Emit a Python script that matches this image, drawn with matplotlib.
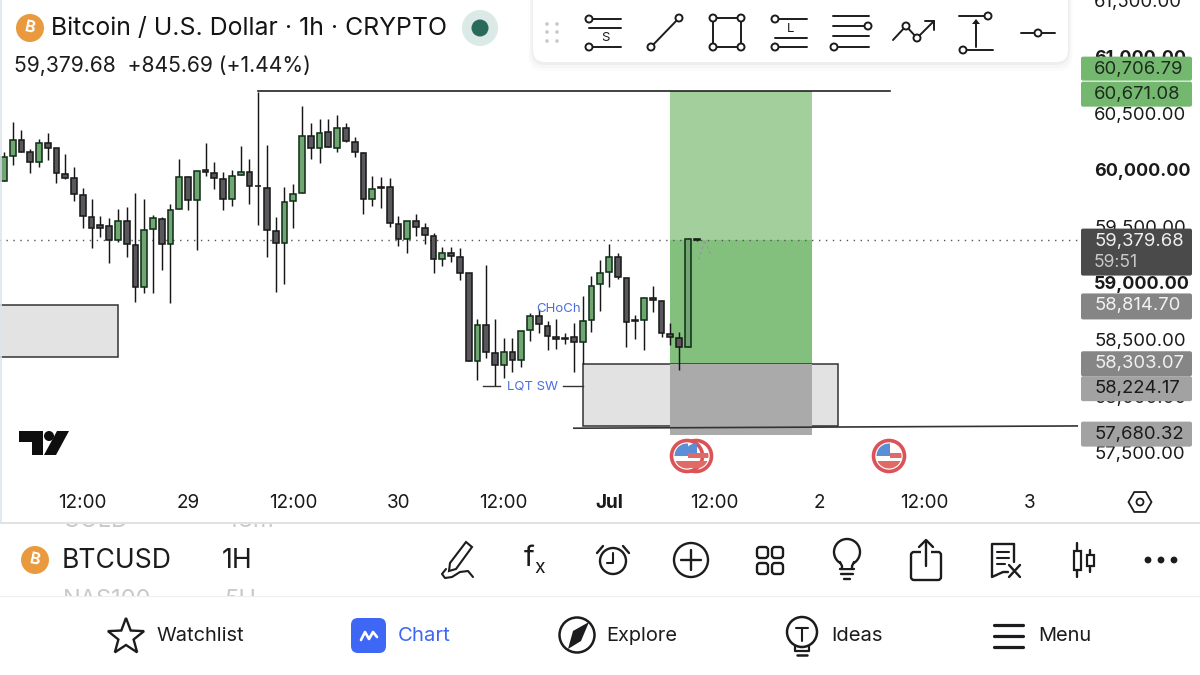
import numpy as np
import matplotlib
matplotlib.use('Agg')
import matplotlib.pyplot as plt
from matplotlib.patches import Rectangle, Circle, FancyBboxPatch, Polygon, RegularPolygon

plt.rcParams['font.family'] = ['Inter', 'DejaVu Sans']

# hourly candles, hour 0 = 29 Jun 00:00
hours = np.arange(-21, 59)
opens = np.array([59906,60121,60268,60159,60068,60236,60192,59965,59926,59782,59587,59510,59507,59383,59552,59336,58968,59478,59566,59342,
                  59655,59941,59732,59997,59970,59923,59740,59956,59985,59861,59844,59460,59357,59723,59794,60301,60192,60333,60198,60375,
                  60250,60153,59740,59852,59846,59522,59389,59545,59489,59415,59212,59265,59230,59085,58306,58628,58383,58274,58386,58318,
                  58581,58707,58622,58525,58513,58519,58474,58669,58988,59097,59230,59047,58669,58669,58864,58840,58551,58510,58433,59392])
highs = np.array([60162,60428,60354,60183,60271,60324,60192,60142,60024,59844,59743,59593,59572,59652,59670,59793,59743,59599,59587,59699,
                  60097,59947,59994,60236,60071,59982,60000,60212,60094,60690,60224,59587,59847,59876,60566,60419,60448,60448,60484,60419,
                  60295,60162,59949,59940,59926,59592,59548,59610,59528,59445,59315,59315,59306,59085,58678,59159,58678,58510,58510,58575,
                  58731,58766,58663,58681,58560,58643,58884,59061,59203,59345,59268,59047,58719,58878,58976,58840,58648,58569,59398,59392])
lows = np.array([59906,60044,60159,59970,60024,60088,59888,59917,59726,59490,59307,59404,59180,59366,59233,58832,58914,58908,59115,58820,
                 59655,59646,59292,59950,59832,59646,59684,59956,59702,59513,59233,58920,58994,59484,59794,60094,60059,60201,60162,60251,
                 60112,59610,59681,59660,59498,59330,59262,59415,59345,59091,59153,59188,59026,58306,58141,58333,58088,58159,58215,58253,
                 58489,58554,58407,58412,58460,58215,58283,58569,58752,58967,59032,58436,58501,58407,58743,58525,58451,58230,58433,59370])
closes = np.array([60118,60268,60159,60068,60236,60198,59970,59932,59788,59590,59484,59484,59383,59552,59342,58968,59469,59572,59342,59649,
                   59941,59732,59994,59979,59926,59740,59950,59985,59861,59855,59466,59354,59714,59788,60301,60192,60330,60201,60375,60257,
                   60156,59740,59834,59843,59530,59389,59548,59495,59424,59209,59268,59235,59091,58306,58625,58389,58274,58386,58318,58575,
                   58710,58634,58533,58504,58501,58474,58660,58976,59091,59230,59055,58654,58660,58864,58846,58557,58519,58433,59392,59379.68])

price_ticks = [61500, 61000, 60500, 60000, 59500, 59000, 58500, 58000, 57500]
bold_ticks = [61000, 60000, 59000]
time_ticks = [-12, 0, 12, 24, 36, 48, 60, 72, 84, 96]
time_labels = ['12:00', '29', '12:00', '30', '12:00', 'Jul', '12:00', '2', '12:00', '3']

last_price = 59379.68
target_price = 60700
entry_price = 58285
stop_price = 57655
box_right = (58285, 57735)
box_left = (58805, 58345)

label_prices = [60706.79, 60671.08, 59379.68, 58814.70, 58303.07, 58224.17, 57680.32]
label_fills = ['#74b86f', '#74b86f', '#4a4a4a', '#858585', '#868686', '#a2a2a2', '#a2a2a2']
label_text_colors = ['#1c2b1c', '#1c2b1c', '#f0f0f0', '#f2f2f2', '#f2f2f2', '#1a1a1a', '#1a1a1a']

fig = plt.figure(figsize=(12, 6.75), dpi=100)
ax = fig.add_axes([0, 0, 1, 1], zorder=1)
ax.set_xlim(-21.44, 115.4)
ax.set_ylim(55531, 61504.4)
for s in ax.spines.values():
    s.set_visible(False)
ax.yaxis.tick_right()
ax.set_yticks(price_ticks)
ax.set_yticklabels(['{:,.2f}'.format(p) for p in price_ticks], fontsize=13.3, color='#1a1a1a')
for lab, p in zip(ax.get_yticklabels(), price_ticks):
    if p in bold_ticks:
        lab.set_fontweight('bold')
        lab.set_fontsize(12.9)
ax.tick_params(axis='y', length=0, direction='in', pad=-76.3)
ax.set_xticks(time_ticks)
ax.set_xticklabels(time_labels, fontsize=13.6, color='#1a1a1a')
ax.get_xticklabels()[5].set_fontweight('bold')
ax.tick_params(axis='x', length=0, direction='in', pad=-130)

# position tool and zones
ax.add_patch(Rectangle((-8, box_left[1]), -30, box_left[0] - box_left[1], fc='#e3e3e3', ec='#333333', lw=1.1, zorder=1.5))
ax.add_patch(Rectangle((45, box_right[1]), 29.1, box_right[0] - box_right[1], fc='#e2e2e2', ec='#333333', lw=1.1, zorder=1.5))
ax.add_patch(Rectangle((55, last_price), 16.2, target_price - last_price, fc='#a3cf9d', ec='none', zorder=1))
ax.add_patch(Rectangle((55, entry_price), 16.2, last_price - entry_price, fc='#83c07d', ec='none', zorder=1))
ax.add_patch(Rectangle((55, stop_price), 16.2, entry_price - stop_price, fc='#aaaaaa', ec='none', zorder=1.8))
ax.plot([8, 80], [target_price, target_price], color='#222222', lw=1.2, zorder=2)
ax.plot([44, 101.4], [57715, 57735], color='#333333', lw=1.2, zorder=2)
ax.hlines(last_price, -22, 101.4, color='#555555', lw=1, linestyles=(0, (1, 4)), zorder=2)

# candles
up = closes >= opens
body_colors = np.where(up, '#6fa672', '#59595d')
edge_colors = np.where(up, '#14301a', '#1a1a1a')
ax.vlines(hours, lows, highs, color='#161616', lw=1.05, zorder=3)
ax.bar(hours, np.abs(closes - opens), bottom=np.minimum(opens, closes), width=0.66,
       color=body_colors, edgecolor=edge_colors, linewidth=1.15, zorder=4)

# annotations on the chart
ax.plot([33.6, 35.6], [58088, 58088], color='#333333', lw=1, zorder=3)
ax.plot([42.8, 45], [58088, 58088], color='#333333', lw=1, zorder=3)
ax.text(39.3, 58088, 'LQT SW', color='#4a6ee0', fontsize=9.5, ha='center', va='center', zorder=5)
ax.text(42.25, 58770, 'CHoCh', color='#4a6ee0', fontsize=9.5, ha='center', va='center', zorder=5)
ax.plot([58.9, 59.7], [59370, 59240], color='#999999', lw=1, ls=(0, (2, 2)), zorder=5)
ax.plot([58.9, 58.2], [59370, 59200], color='#999999', lw=1, ls=(0, (2, 2)), zorder=5)

# everything below is app chrome, drawn in pixel coordinates
ui = fig.add_axes([0, 0, 1, 1], zorder=2)
ui.set_xlim(0, 1200)
ui.set_ylim(675, 0)
ui.axis('off')
ui.patch.set_alpha(0)
INK = '#1c1c1e'


def price_px(p):
    return 675 - ax.transData.transform((0, p))[1] * 675 / fig.bbox.height


def ring(x, y, r, lw=1.4, ec=INK, fc='white', z=6):
    ui.add_patch(Circle((x, y), r, fc=fc, ec=ec, lw=lw, zorder=z))


def seg(xs, ys, lw=1.4, c=INK, z=5):
    ui.plot(xs, ys, color=c, lw=lw, zorder=z, solid_capstyle='round')


def btc(x, y):
    ui.add_patch(Circle((x, y), 14, fc='#ea9a3e', ec='none', zorder=6))
    ui.text(x, y, 'B', color='white', fontsize=11.5, fontweight='bold', ha='center', va='center', rotation=-12, zorder=7)


def flag(x, y):
    c = Circle((x, y), 15.5, fc='white', ec='#dc5357', lw=2.6, zorder=6)
    ui.add_patch(c)
    clip = Circle((x, y), 12.5, transform=ui.transData)
    parts = [Rectangle((x - 13, y - 13), 14, 13, fc='#5a8fd8', ec='none'),
             Rectangle((x + 1, y - 3), 12, 5, fc='#e06a66', ec='none'),
             Rectangle((x - 13, y + 5), 26, 9, fc='#e06a66', ec='none')]
    for part in parts:
        part.set_zorder(7)
        ui.add_patch(part)
        part.set_clip_path(clip)


# header
btc(30, 28)
ui.text(51, 28, 'Bitcoin / U.S. Dollar · 1h · CRYPTO', fontsize=17.9, color='#141414', va='center', zorder=6)
ui.text(14, 66, '59,379.68  +845.69 (+1.44%)', fontsize=15.2, color='#1c1c1c', va='center', zorder=6)
ui.add_patch(Circle((480, 28), 18, fc='#dceae7', ec='none', zorder=5))
ui.add_patch(Circle((480, 28), 8.5, fc='#2a6a5b', ec='none', zorder=6))

# drawing toolbar
for grow, a in zip([9, 6, 3], [0.015, 0.02, 0.03]):
    ui.add_patch(FancyBboxPatch((533 - grow / 2, -20), 535 + grow, 82 + grow, boxstyle='round,pad=0,rounding_size=14',
                                fc='black', ec='none', alpha=a, zorder=3))
ui.add_patch(FancyBboxPatch((533, -20), 535, 82, boxstyle='round,pad=0,rounding_size=12', fc='white', ec='none', zorder=4))
for gx in [547, 557]:
    for gy in [24, 32, 41]:
        ui.add_patch(Circle((gx, gy), 1.8, fc='#c8c8c8', ec='none', zorder=5))
seg([593, 621], [19, 19]); seg([589, 621], [28, 28]); seg([593, 621], [47, 47])
ring(589, 19, 3.5); ring(589, 47, 3.5)
ui.text(605, 38, 'S', fontsize=9.5, ha='center', va='center', color=INK, zorder=6)
seg([651, 679], [47, 18]); ring(651, 47, 3.5); ring(679, 18, 3.5)
seg([713, 741, 741, 713, 713], [18, 18, 47, 47, 18])
for cx, cy in [(713, 18), (741, 18), (713, 47), (741, 47)]:
    ring(cx, cy, 3.5)
seg([779, 807], [19, 19]); seg([775, 807], [38, 38]); seg([779, 807], [47, 47])
ring(775, 19, 3.5); ring(775, 47, 3.5)
ui.text(791, 29, 'L', fontsize=9.5, ha='center', va='center', color=INK, zorder=6)
seg([833, 869], [16, 16]); seg([833, 864], [26, 26]); seg([833, 869], [36, 36]); seg([838, 869], [47, 47])
ring(868, 26, 3.5); ring(834, 47, 3.5)
seg([893, 906, 917, 934], [40, 26, 38, 21]); seg([925, 934, 934], [21, 21, 30])
ring(906, 26, 3.5); ring(917, 38, 3.5)
seg([959, 984], [16, 16]); seg([967, 993], [50, 50]); seg([976, 976], [47, 21])
ui.add_patch(Polygon([(972, 24), (980, 24), (976, 19)], fc=INK, ec='none', zorder=6))
ring(988, 16, 3.5); ring(963, 50, 3.5)
seg([1021, 1055], [33, 33]); ring(1038, 33, 3.5)

# price labels
nudges = [-21, 0, 1, 2, 2, 18, 2]
heights = [24, 25, 47, 26, 25, 25, 25]
label_lines = [None, None, '59:51', None, None, None, None]
for p, fill, tc, nudge, h, extra in zip(label_prices, label_fills, label_text_colors, nudges, heights, label_lines):
    y = price_px(p) + nudge
    top = y - 12.5
    ui.add_patch(FancyBboxPatch((1081, top), 111, h, boxstyle='round,pad=0,rounding_size=2', fc=fill, ec='none', zorder=5))
    ui.text(1094, y, '{:,.2f}'.format(p), fontsize=13.3, color=tc, va='center', zorder=6)
    if extra:
        ui.text(1094, y + 21, extra, fontsize=12.6, color='#c8c8c8', va='center', zorder=6)

# logo, flags and settings
ui.add_patch(Polygon([(19, 431), (43, 431), (43, 455), (32, 455), (32, 442), (19, 442)], fc='#0e0e0e', ec='none', zorder=6))
ui.add_patch(Circle((49, 436), 5, fc='#0e0e0e', ec='none', zorder=6))
ui.add_patch(Polygon([(57, 431), (69, 431), (56, 455), (44, 455)], fc='#0e0e0e', ec='none', zorder=6))
flag(696, 456); flag(687, 456); flag(889, 456)
ui.add_patch(RegularPolygon((1140, 502), 6, radius=11.5, orientation=np.pi / 6, fc='white', ec=INK, lw=1.3, zorder=6))
ring(1140, 502, 3.5, lw=1.3)

# bottom panels
ui.add_patch(Rectangle((0, 523), 1200, 152, fc='white', ec='none', zorder=3))
seg([0, 1200], [523, 523], lw=1.2, c='#dddddd', z=3.5)
seg([0, 1200], [596, 596], lw=0.8, c='#efefef', z=3.5)
ghost_clip = Rectangle((0, 524), 1200, 72, transform=ui.transData)
for tx, ty, s in [(63, 521, 'GOLD'), (224, 521, '48m'), (63, 600, 'NAS100'), (224, 600, '5H')]:
    t = ui.text(tx, ty, s, fontsize=17, color='#c9c9c9', va='center', zorder=3.6, clip_on=True)
    t.set_clip_path(ghost_clip)
btc(35, 560)
ui.text(62, 561, 'BTCUSD', fontsize=19.1, color=INK, va='center', zorder=6)
ui.text(222, 561, '1H', fontsize=19.1, color=INK, va='center', zorder=6)

# action row
ui.add_patch(Polygon([(466, 542), (472, 547), (456, 569), (449, 571), (450, 563)], fc='white', ec=INK, lw=1.5, zorder=6))
seg([446, 442, 445, 452, 460, 468, 473], [569, 574, 578, 577, 572, 571, 577], lw=1.5)
ui.text(529, 558, 'f', fontsize=21, color=INK, ha='center', va='center', zorder=6)
ui.text(540, 568, 'x', fontsize=14, color=INK, ha='center', va='center', zorder=6)
ring(613, 561, 13, lw=1.7)
seg([613, 613, 607], [553, 563, 563], lw=1.5, z=7)
seg([597, 603], [553, 546], lw=1.7); seg([629, 623], [553, 546], lw=1.7)
ring(691, 560, 17, lw=1.7)
seg([681, 701], [560, 560], lw=1.7, z=7); seg([691, 691], [550, 570], lw=1.7, z=7)
for gx in [757, 772]:
    for gy in [547, 563]:
        ui.add_patch(FancyBboxPatch((gx, gy), 11, 11, boxstyle='round,pad=0,rounding_size=3', fc='white', ec=INK, lw=1.7, zorder=6))
ui.add_patch(Circle((847, 552), 13, fc='white', ec=INK, lw=1.7, zorder=6))
ui.add_patch(Rectangle((841, 562), 12, 6, fc='white', ec='none', zorder=7))
seg([840, 842, 842], [562, 566, 568], lw=1.7, z=7); seg([854, 852, 852], [562, 566, 568], lw=1.7, z=7)
seg([840, 854], [569, 569], lw=1.7); seg([841, 853], [574, 574], lw=1.7); seg([844, 850], [579, 579], lw=1.7)
ui.add_patch(FancyBboxPatch((911, 552), 30, 28, boxstyle='round,pad=0,rounding_size=3', fc='white', ec=INK, lw=1.7, zorder=6))
ui.add_patch(Rectangle((921, 548), 10, 8, fc='white', ec='none', zorder=7))
seg([926, 926], [541, 566], lw=1.7, z=8); seg([919, 926, 933], [547, 540, 547], lw=1.7, z=8)
seg([1014, 992, 992, 1003, 1008], [544, 544, 577, 572, 572], lw=1.7)
seg([1014, 1014], [544, 562], lw=1.7)
seg([997, 1009], [552, 552], lw=1.5); seg([997, 1009], [558, 558], lw=1.5); seg([997, 1005], [564, 564], lw=1.5)
seg([1009, 1020], [565, 577], lw=1.7); seg([1020, 1009], [565, 577], lw=1.7)
seg([1077, 1077], [543, 577], lw=1.7); seg([1090, 1090], [550, 572], lw=1.7)
ui.add_patch(Rectangle((1073.5, 551), 7, 19, fc='white', ec=INK, lw=1.6, zorder=6))
ui.add_patch(Rectangle((1086.5, 555), 7, 11, fc='white', ec=INK, lw=1.6, zorder=6))
for dx in [1148, 1161, 1174]:
    ui.add_patch(Circle((dx, 560), 3.4, fc=INK, ec='none', zorder=6))

# navigation
ang = np.linspace(-np.pi / 2, 1.5 * np.pi, 11)[:-1]
rad = np.where(np.arange(10) % 2 == 0, 19, 8)
ui.add_patch(Polygon(np.c_[126 + rad * np.cos(ang), 637 + rad * np.sin(ang)], fc='white', ec=INK, lw=1.7, zorder=6))
ui.text(156, 636, 'Watchlist', fontsize=14.4, color=INK, va='center', zorder=6)
ui.add_patch(FancyBboxPatch((351, 618), 35, 35, boxstyle='round,pad=0,rounding_size=7', fc='#3f67f5', ec='none', zorder=6))
seg([361, 365, 369, 373, 377], [640, 632, 639, 632, 637], lw=1.9, c='white', z=7)
ui.text(398, 636, 'Chart', fontsize=14.6, color='#3f67f5', va='center', zorder=6)
ring(577, 635, 17.5, lw=1.8)
ui.add_patch(Polygon([(589, 622), (581, 641), (568, 649), (573, 631)], fc=INK, ec='none', zorder=7))
ui.text(606, 636, 'Explore', fontsize=14.4, color=INK, va='center', zorder=6)
ring(802, 632, 15, lw=1.8)
seg([796, 808], [628, 628], lw=1.5, z=7); seg([802, 802], [628, 641], lw=1.5, z=7)
seg([795, 795, 809, 809], [646, 651, 651, 646], lw=1.6, z=5)
seg([797, 807], [655, 655], lw=1.8)
ui.text(831, 636, 'Ideas', fontsize=14.6, color=INK, va='center', zorder=6)
for my in [625, 636, 647]:
    seg([994, 1023], [my, my], lw=2.3)
ui.text(1038, 636, 'Menu', fontsize=14.4, color=INK, va='center', zorder=6)

seg([0.7, 0.7], [0, 523], lw=1.2, c='#dce6ef', z=6)

fig.savefig('out.png', dpi=100)
